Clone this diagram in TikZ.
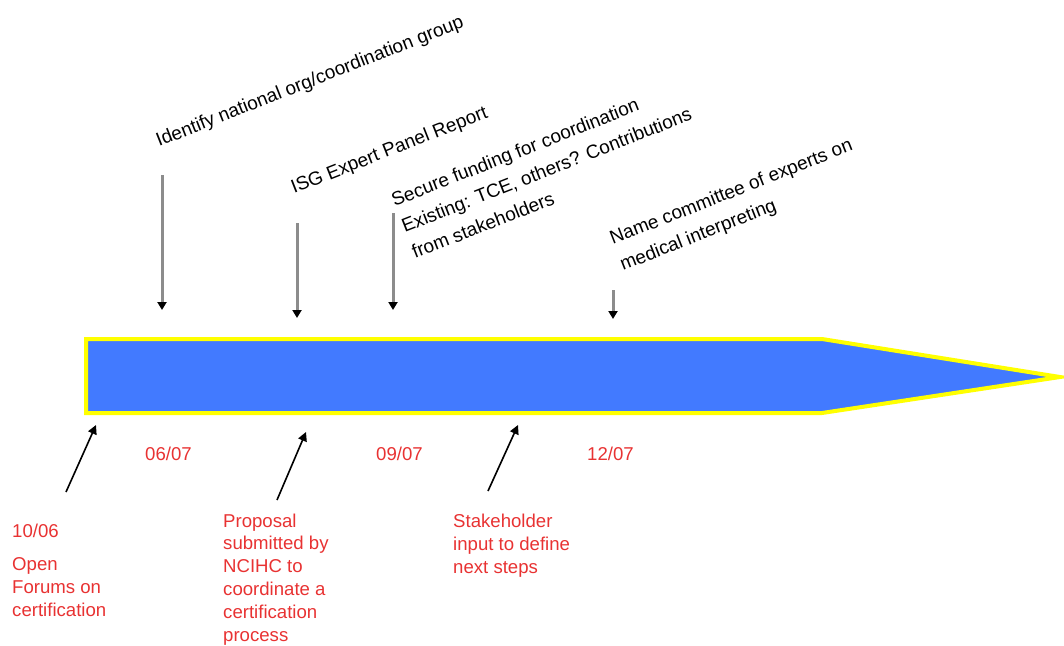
\documentclass[tikz,border=0pt]{standalone}
\usepackage{fontspec}
\setmainfont{Liberation Sans}
\usetikzlibrary{arrows.meta}
\definecolor{tlblue}{RGB}{66,122,255}
\definecolor{tlyellow}{RGB}{255,255,0}
\definecolor{tlred}{RGB}{232,50,50}
\definecolor{shaftgray}{RGB}{140,140,140}
\tikzset{
  redtext/.style={text=tlred, font=\fontsize{18.6}{22.8}\selectfont, inner sep=0pt, align=left, anchor=base west},
  slanttext/.style={text=black, font=\fontsize{19}{28}\selectfont, inner sep=0pt, align=left, anchor=base west, rotate=21.5},
  downarrow/.style={draw=shaftgray, line width=3pt, -{Triangle[color=black,width=9pt,length=8pt]}},
  uparrow/.style={draw=black, line width=1.6pt, -{Triangle[color=black,width=9pt,length=9pt]}}
}
\begin{document}
\begin{tikzpicture}[x=1pt,y=-1pt]
\useasboundingbox (0,0) rectangle (1064,645);
% timeline arrow
\draw[fill=tlblue, draw=tlyellow, line width=4pt, line join=miter]
  (86,339) -- (822,339) -- (1060,377) -- (822,413) -- (86,413) -- cycle;
% top texts (anchor = baseline of last line)
\node[slanttext] (t1) at (159,147) {Identify national org/coordination group};
\node[slanttext] (t2) at (294,194) {ISG Expert Panel Report};
\node[slanttext] (t3) at (415,259) {Secure funding for coordination\\Existing: TCE, others? Contributions\\from stakeholders};
\node[slanttext] (t4) at (623,271) {Name committee of experts on\\medical interpreting};
% down arrows
\coordinate (d1s) at (162,175); \coordinate (d1e) at (162,310);
\coordinate (d2s) at (297,223); \coordinate (d2e) at (297,318);
\coordinate (d3s) at (393,213); \coordinate (d3e) at (393,310);
\coordinate (d4s) at (613,290); \coordinate (d4e) at (613,319);
\draw[downarrow] (d1s) -- (d1e);
\draw[downarrow] (d2s) -- (d2e);
\draw[downarrow] (d3s) -- (d3e);
\draw[downarrow] (d4s) -- (d4e);
% dates
\node[redtext] (m1) at (145,460) {06/07};
\node[redtext] (m2) at (376,460) {09/07};
\node[redtext] (m3) at (587,460) {12/07};
% bottom texts (anchor = baseline of last line)
\node[redtext] (b0) at (12,537) {10/06};
\node[redtext] (b1) at (12,616) {Open\\Forums on\\certification};
\node[redtext] (b2) at (223,641) {Proposal\\submitted by\\NCIHC to\\coordinate a\\certification\\process};
\node[redtext] (b3) at (453,573) {Stakeholder\\input to define\\next steps};
% up arrows
\coordinate (u1s) at (66,492); \coordinate (u1e) at (96,425);
\coordinate (u2s) at (277,500); \coordinate (u2e) at (306,432);
\coordinate (u3s) at (488,491); \coordinate (u3e) at (518,425);
\draw[uparrow] (u1s) -- (u1e);
\draw[uparrow] (u2s) -- (u2e);
\draw[uparrow] (u3s) -- (u3e);
\end{tikzpicture}
\end{document}
